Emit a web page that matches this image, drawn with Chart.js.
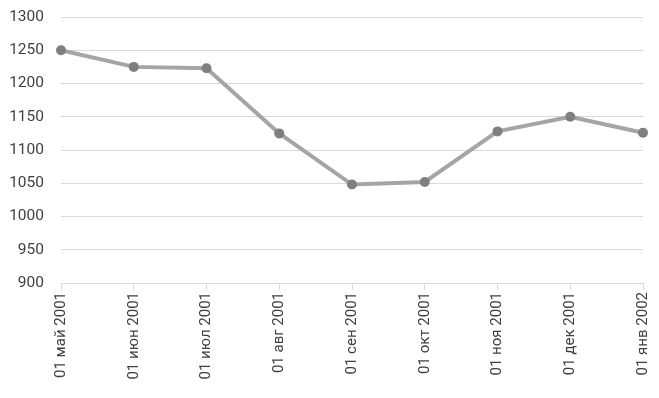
<!DOCTYPE html>
<html><head><meta charset="utf-8">
<script src="https://cdn.jsdelivr.net/npm/chart.js@4/dist/chart.umd.min.js"></script>
<style>html,body{margin:0;padding:0;background:#fff}#wrap{width:659px;height:398px}</style>
</head><body><div id="wrap"><canvas id="c"></canvas></div>
<script>
const categories = ["01 май 2001","01 июн 2001","01 июл 2001","01 авг 2001","01 сен 2001","01 окт 2001","01 ноя 2001","01 дек 2001","01 янв 2002"];
const values = [1250, 1225, 1223, 1125, 1048, 1052, 1128, 1150, 1126];
const yMin = 900, yMax = 1300, yStep = 50;

new Chart(document.getElementById('c'), {
  type: 'line',
  data: { labels: categories, datasets: [{
    data: values,
    borderColor: '#a5a5a5', borderWidth: 4,
    pointRadius: 5, pointHoverRadius: 5,
    pointBackgroundColor: '#7f7f7f', pointBorderColor: '#7f7f7f', pointBorderWidth: 0,
    tension: 0, fill: false
  }]},
  options: {
    responsive: true, maintainAspectRatio: false, animation: false,
    layout: { padding: { top: 17, right: 16, left: 0, bottom: 0 } },
    plugins: { legend: { display: false }, tooltip: { enabled: false } },
    scales: {
      x: {
        offset: false,
        afterFit: (s) => { s.height = 115; s.paddingLeft = 0; s.paddingRight = 0; },
        grid: { display: true, drawOnChartArea: false, drawTicks: true, tickLength: 7, color: '#d9d9d9', lineWidth: 1 },
        border: { display: true, color: '#d9d9d9', width: 1 },
        ticks: { color: '#404040', font: { family: 'Roboto', size: 15 }, minRotation: 90, maxRotation: 90, padding: 2, autoSkip: false }
      },
      y: {
        min: yMin, max: yMax,
        afterFit: (s) => { s.width = 61; s.paddingTop = 0; s.paddingBottom = 0; },
        grid: { color: '#d9d9d9', lineWidth: 1, drawTicks: false },
        border: { display: false },
        ticks: { stepSize: yStep, color: '#404040', font: { family: 'Roboto', size: 15.5 }, padding: 17,
          callback: (v) => String(v) }
      }
    }
  }
});
</script></body></html>
